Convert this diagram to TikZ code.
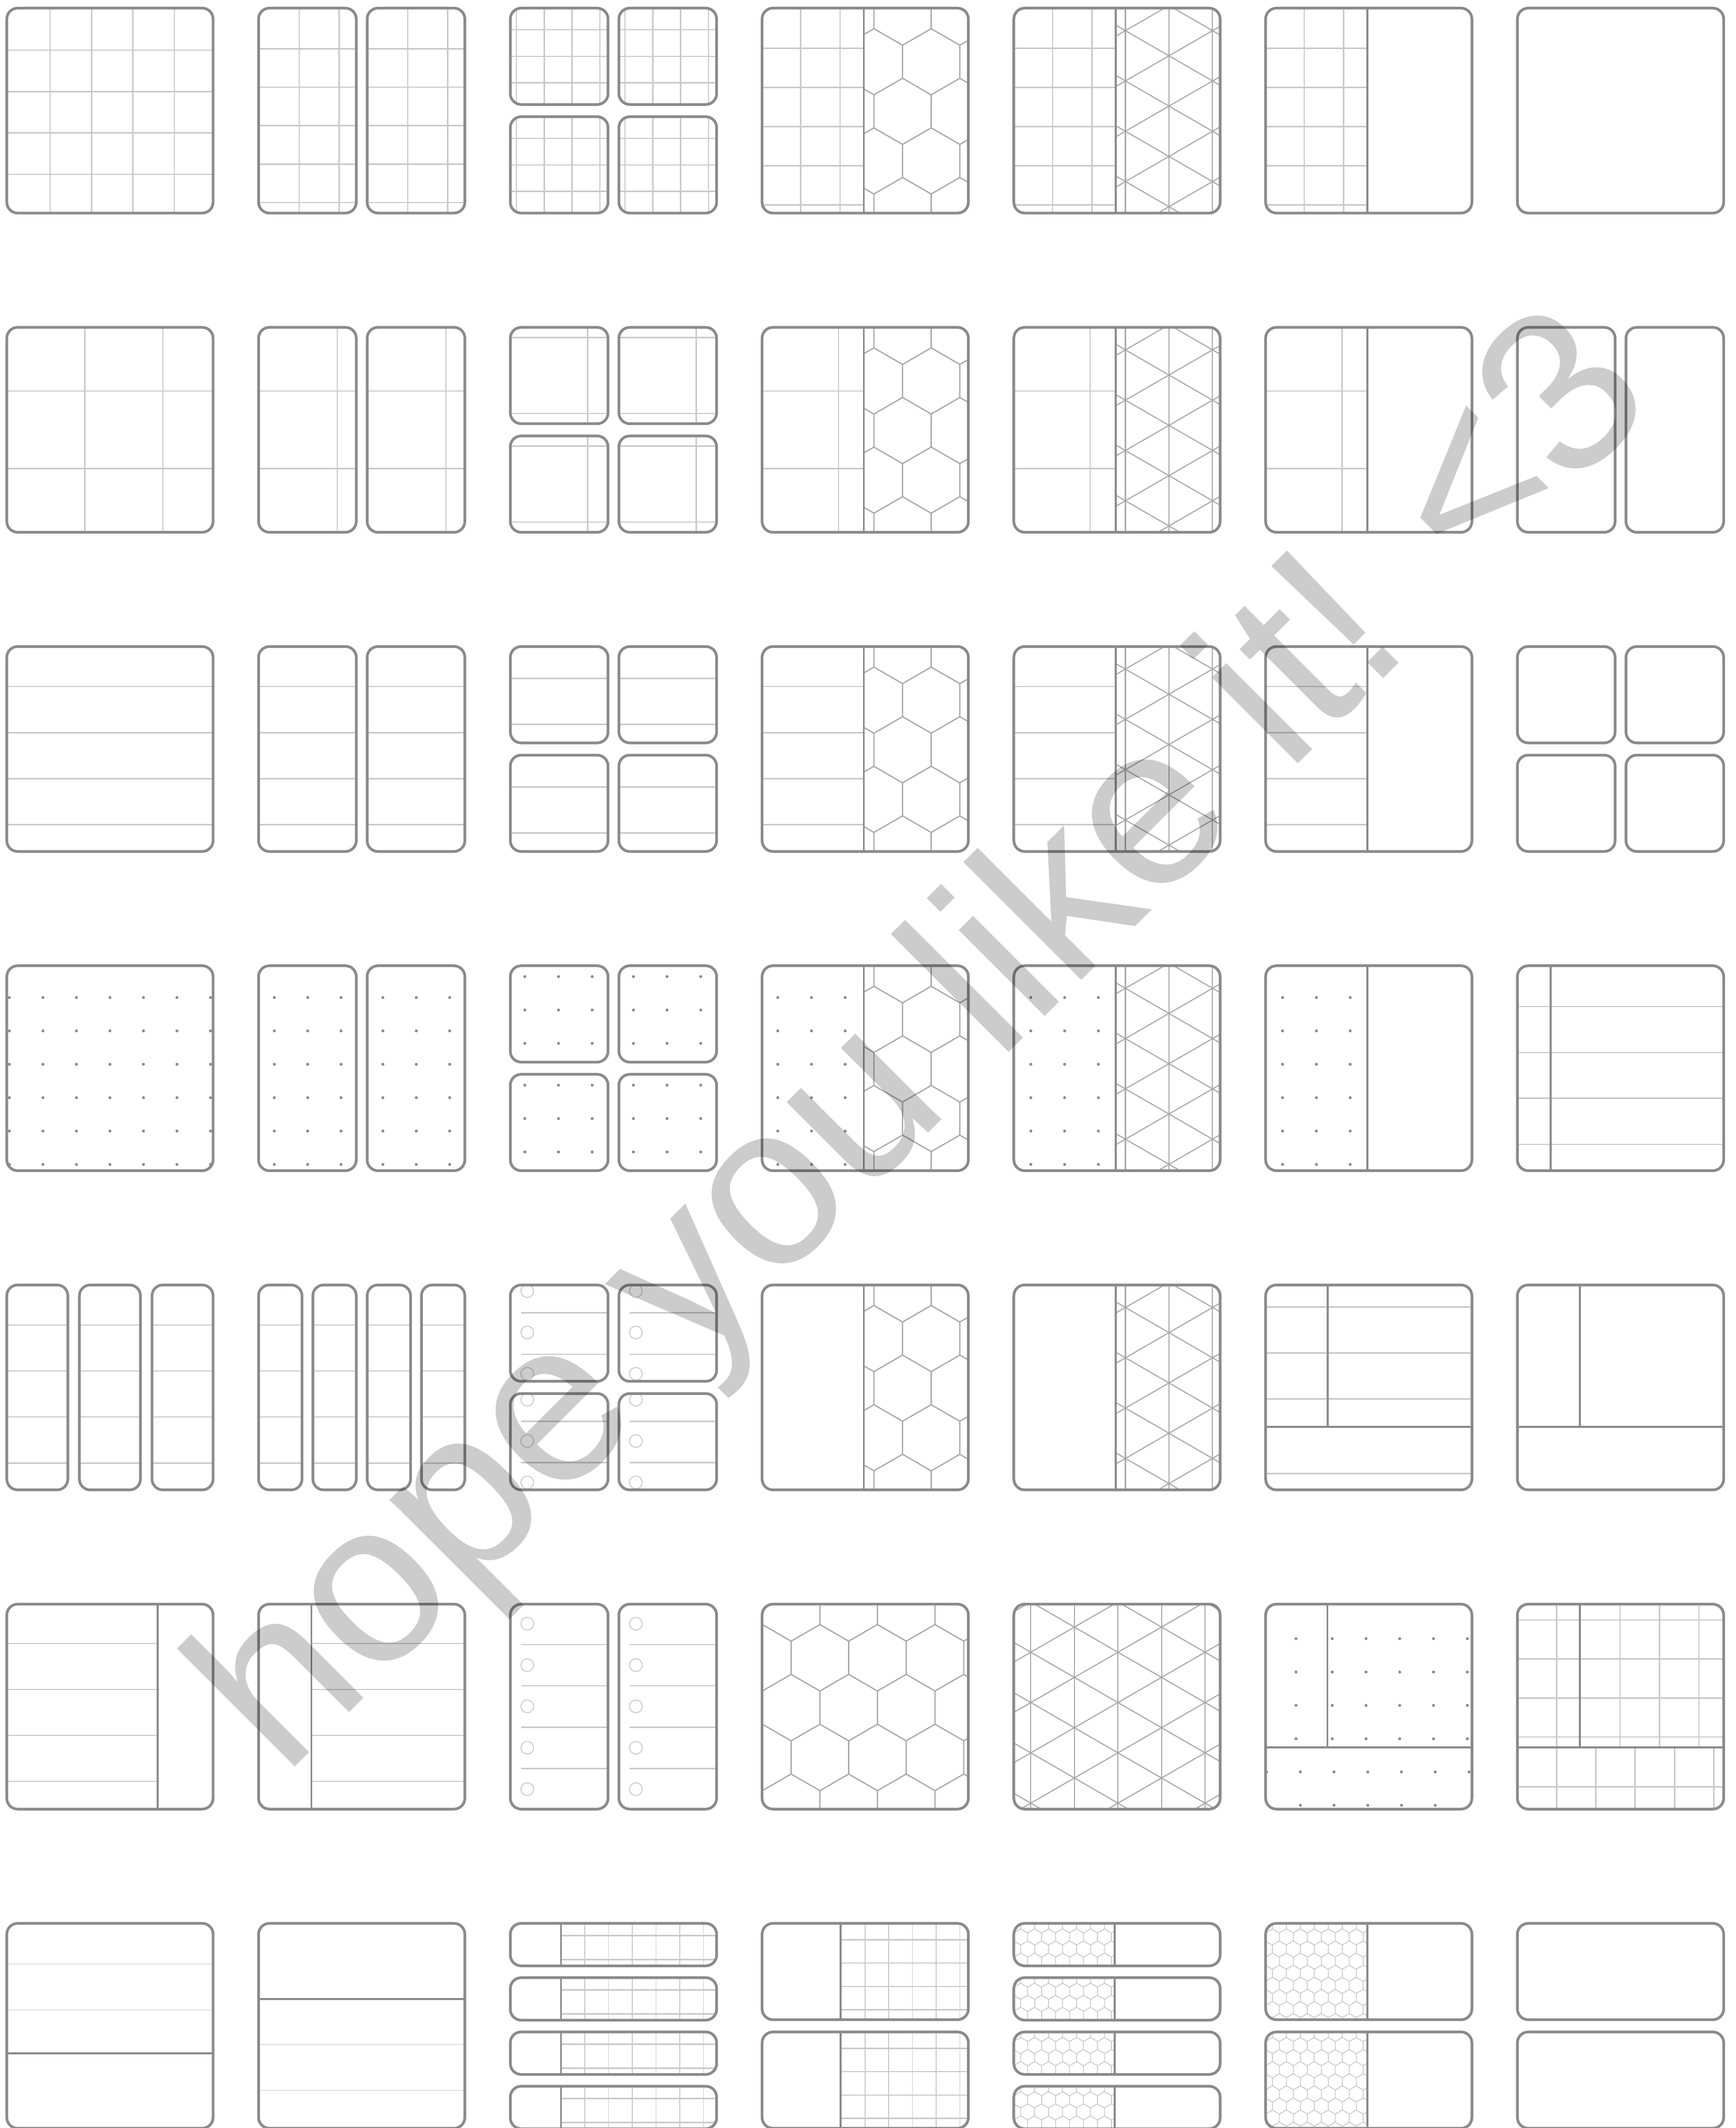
\documentclass[tikz,border=0pt]{standalone}
\usepackage{fontspec}
\setmainfont{Liberation Sans}
\definecolor{olc}{HTML}{8A8A8A}
\definecolor{lgc}{HTML}{C9C9C9}
\definecolor{patc}{HTML}{A8A8A8}
\definecolor{dotc}{HTML}{8A8A8A}
\definecolor{holec}{HTML}{D0D0D0}
\definecolor{vlc}{HTML}{E0E0E0}
\tikzset{
 outl/.style={draw=olc, line width=2pt, rounded corners=8pt},
 lg/.style={draw=lgc, line width=1pt},
 lgt/.style={draw=lgc, line width=0.6pt},
 vlt/.style={draw=vlc, line width=1pt},
 pat/.style={draw=patc, line width=0.8pt},
 spat/.style={draw=lgc, line width=0.5pt},
 dv/.style={draw=olc, line width=1.4pt},
 hole/.style={draw=holec, line width=0.8pt},
}
\newcommand\hln[3]{\draw[lg] (#1,#3) -- (#2,#3);}
\newcommand\vln[3]{\draw[lg] (#3,#1) -- (#3,#2);}
\newcommand\pgbox[5]{\begin{scope}[shift={(#1,#2)}]
 \begin{scope}\clip[rounded corners=8pt] (0,0) rectangle (#3,#4); #5 \end{scope}
 \draw[outl] (0,0) rectangle (#3,#4);
 \end{scope}}
\newcommand\twobox[3]{\begin{scope}[shift={(#1,#2)}]\pgbox{0}{0}{72}{151}{#3}\pgbox{80}{0}{72}{151}{#3}\end{scope}}
\newcommand\fourbox[3]{\begin{scope}[shift={(#1,#2)}]\pgbox{0}{0}{72}{71}{#3}\pgbox{80}{0}{72}{71}{#3}\pgbox{0}{80}{72}{71}{#3}\pgbox{80}{80}{72}{71}{#3}\end{scope}}
\newcommand\dotgrid[2]{\foreach \a in {#1}{\foreach \b in {#2}{\fill[dotc] (\a,\b) circle (1.1);}}}
\newcommand\dotsix[1]{\dotgrid{#1}{23.4,48,72.6,97.2,121.8,146.4}}
\newcommand\hexfield[8]{%
\begin{scope}
\clip (#1,#2) rectangle (#3,#4);
\pgfmathsetmacro\hxR{#7/sqrt(3)}
\pgfmathsetmacro\hxP{1.5*\hxR}
\pgfmathtruncatemacro\hxIa{floor((#1-#5)/#7)-1}
\pgfmathtruncatemacro\hxIb{ceil((#3-#5)/#7)+1}
\pgfmathtruncatemacro\hxJa{floor((#2-#6)/\hxP)-1}
\pgfmathtruncatemacro\hxJb{ceil((#4-#6)/\hxP)+1}
\foreach \j in {\hxJa,...,\hxJb}{
 \foreach \i in {\hxIa,...,\hxIb}{
  \pgfmathsetmacro\hxX{#5+\i*#7+mod(\j+20,2)*#7/2}
  \pgfmathsetmacro\hxY{#6+\j*\hxP}
  \draw[#8] (\hxX,\hxY) +(30:\hxR) -- +(90:\hxR) -- +(150:\hxR) -- +(210:\hxR) -- +(270:\hxR) -- +(330:\hxR) -- cycle;
 }}
\end{scope}}
\newcommand\trifield[7]{%
\begin{scope}
\clip (#1,#2) rectangle (#3,#4);
\pgfmathsetmacro\trT{tan(30)}
\pgfmathsetmacro\trS{2*#7*\trT}
\foreach \k in {-6,...,6}{\draw[pat] ({#5+\k*#7},#2) -- ({#5+\k*#7},#4);}
\foreach \k in {-8,...,8}{
 \draw[pat] (#1,{#6+\k*\trS+(#1-#5)*\trT}) -- (#3,{#6+\k*\trS+(#3-#5)*\trT});
 \draw[pat] (#1,{#6+\k*\trS-(#1-#5)*\trT}) -- (#3,{#6+\k*\trS-(#3-#5)*\trT});
}
\end{scope}}
\newcommand\divline{\draw[dv] (75,0) -- (75,151);}
\newcommand\hexR{\hexfield{75}{0}{152}{151}{82.4}{39.5}{42.2}{pat}}
\newcommand\triR{\trifield{75}{0}{152}{151}{82.2}{16.6}{32.1}}
\newcommand\gridL{\foreach \v in {28.5,57.5}{\vln{0}{151}{\v}}\foreach \v in {29.5,58.4,87.3,116.2,145.1}{\hln{0}{75}{\v}}}
\newcommand\corL{\vln{0}{151}{56.3}\hln{0}{75}{47}\hln{0}{75}{104}}
\newcommand\ruleL{\foreach \v in {29.5,63.4,97.3,131.2}{\hln{0}{75}{\v}}}
\begin{document}
\begin{tikzpicture}[x=1pt,y=-1pt]
\useasboundingbox (0,0) rectangle (1279,1568);
\fill[white] (0,0) rectangle (1279,1568);
% ---------- row 1
\pgbox{5}{6}{152}{151}{\foreach \v in {32,62.5,93,123.5}{\vln{0}{151}{\v}}\foreach \v in {31,61.5,92,122.5}{\hln{0}{152}{\v}}}
\twobox{190.5}{6}{\foreach \v in {30,59.4}{\vln{0}{151}{\v}}\foreach \v in {30,58.3,86.6,114.9,143.2}{\hln{0}{72}{\v}}}
\fourbox{376}{6}{\foreach \v in {4.5,25,45.4,66}{\vln{0}{71}{\v}}\foreach \v in {16,35.5,55}{\hln{0}{72}{\v}}}
\pgbox{561.5}{6}{152}{151}{\gridL\hexR\divline}
\pgbox{747}{6}{152}{151}{\gridL\triR\divline}
\pgbox{932.5}{6}{152}{151}{\gridL\divline}
\pgbox{1118}{6}{152}{151}{}
% ---------- row 2
\pgbox{5}{241.2}{152}{151}{\vln{0}{151}{57.5}\vln{0}{151}{115}\hln{0}{152}{47}\hln{0}{152}{104}}
\twobox{190.5}{241.2}{\vln{0}{151}{58}\hln{0}{72}{47}\hln{0}{72}{104}}
\fourbox{376}{241.2}{\vln{0}{71}{57}\hln{0}{72}{7.5}\hln{0}{72}{63.5}}
\pgbox{561.5}{241.2}{152}{151}{\corL\hexR\divline}
\pgbox{747}{241.2}{152}{151}{\corL\triR\divline}
\pgbox{932.5}{241.2}{152}{151}{\corL\divline}
\twobox{1118}{241.2}{}
% ---------- row 3
\pgbox{5}{476.4}{152}{151}{\foreach \v in {29.5,63.4,97.3,131.2}{\hln{0}{152}{\v}}}
\twobox{190.5}{476.4}{\foreach \v in {29.5,63.4,97.3,131.2}{\hln{0}{72}{\v}}}
\fourbox{376}{476.4}{\hln{0}{72}{23.5}\hln{0}{72}{57.4}}
\pgbox{561.5}{476.4}{152}{151}{\ruleL\hexR\divline}
\pgbox{747}{476.4}{152}{151}{\ruleL\triR\divline}
\pgbox{932.5}{476.4}{152}{151}{\ruleL\divline}
\fourbox{1118}{476.4}{}
% ---------- row 4
\pgbox{5}{711.6}{152}{151}{\dotsix{1.9,26.6,51.3,76,100.7,125.4,150.1}}
\twobox{190.5}{711.6}{\dotsix{11.6,36.2,60.8}}
\fourbox{376}{711.6}{\dotgrid{10.7,35.5,60.3}{8,32.6,57.2}}
\pgbox{561.5}{711.6}{152}{151}{\dotsix{11.6,36.4,61.2}\hexR\divline}
\pgbox{747}{711.6}{152}{151}{\dotsix{12.5,37.4,62.3}\triR\divline}
\pgbox{932.5}{711.6}{152}{151}{\dotsix{12.5,37.4,62.3}\divline}
\pgbox{1118}{711.6}{152}{151}{\foreach \v in {30,63.9,97.7,131.6}{\hln{0}{152}{\v}}\draw[dv] (24.6,0) -- (24.6,151);}
% ---------- row 5
\foreach \xx in {5,58.5,112}{\pgbox{\xx}{946.8}{45}{151}{\foreach \v in {29.5,63.4,97.3,131.2}{\hln{0}{45}{\v}}}}
\foreach \xx in {190.5,230.5,270.5,310.5}{\pgbox{\xx}{946.8}{32}{151}{\foreach \v in {29.5,63.4,97.3,131.2}{\hln{0}{32}{\v}}}}
\fourbox{376}{946.8}{\foreach \c in {4.5,35,65.5}{\draw[hole] (12.5,\c) circle (4.7);}\hln{7.9}{72}{20.5}\hln{7.9}{72}{51}}
\pgbox{561.5}{946.8}{152}{151}{\hexR\divline}
\pgbox{747}{946.8}{152}{151}{\triR\divline}
\pgbox{932.5}{946.8}{152}{151}{\foreach \v in {16.2,50,83.9,138.9}{\hln{0}{152}{\v}}\draw[dv] (45.7,0) -- (45.7,104.5);\draw[dv] (0,104.5) -- (152,104.5);}
\pgbox{1118}{946.8}{152}{151}{\draw[dv] (46,0) -- (46,104.5);\draw[dv] (0,104.5) -- (152,104.5);}
% ---------- row 6
\pgbox{5}{1182}{152}{151}{\foreach \v in {29,62.9,96.7,130.6}{\hln{0}{111.2}{\v}}\draw[dv] (111.2,0) -- (111.2,151);}
\pgbox{190.5}{1182}{152}{151}{\foreach \v in {29,62.9,96.7,130.6}{\hln{38.9}{152}{\v}}\draw[dv] (38.9,0) -- (38.9,151);}
\twobox{376}{1182}{\foreach \c in {14.4,44.9,75.3,105.8,136.3}{\draw[hole] (12.5,\c) circle (4.7);}\foreach \v in {29.8,60.2,90.7,121.2}{\hln{7.9}{72}{\v}}}
\pgbox{561.5}{1182}{152}{151}{\hexfield{0}{0}{152}{151}{0.2}{39.5}{42.4}{pat}}
\pgbox{747}{1182}{152}{151}{\trifield{0}{0}{152}{151}{44.6}{16.9}{32.1}}
\pgbox{932.5}{1182}{152}{151}{\dotgrid{22.4,49.1,74,98.8,123.7,148.6}{25.4,50,74.6,99.2}\dotgrid{0.7,25.6,50.4,75.3,100.1,125,149.9}{123.6}\dotgrid{25.6,50.4,75.3,100.1,125}{148.2}\draw[dv] (45.6,0) -- (45.6,105.5);\draw[dv] (0,105.5) -- (152,105.5);}
\pgbox{1118}{1182}{152}{151}{\vln{0}{151}{29}\foreach \v in {75.7,104.7,133.7}{\vln{0}{105.5}{\v}}\foreach \v in {57.7,86.7,115.8,144.8}{\vln{105.5}{151}{\v}}\foreach \v in {11.7,40.4,69.1,97.8,134.7}{\hln{0}{152}{\v}}\draw[dv] (46,0) -- (46,105.5);\draw[dv] (0,105.5) -- (152,105.5);}
% ---------- row 7
\pgbox{5}{1417.2}{152}{151}{\draw[vlt] (0,30) -- (152,30);\draw[vlt] (0,63.8) -- (152,63.8);\draw[dv] (0,95.7) -- (152,95.7);}
\pgbox{190.5}{1417.2}{152}{151}{\draw[dv] (0,55.8) -- (152,55.8);\draw[vlt] (0,89.2) -- (152,89.2);\draw[vlt] (0,123.1) -- (152,123.1);}
\foreach \yy in {1417.2,1457.2,1497.2,1537.2}{\pgbox{376}{\yy}{152}{31.3}{\foreach \v in {54.8,72.3,89.8,107.3,124.8,142.3}{\draw[lgt] (\v,0) -- (\v,31.3);}\hln{37.3}{152}{9.1}\hln{37.3}{152}{26.7}\draw[dv] (37.3,0) -- (37.3,31.3);}}
\foreach \yy in {1417.2,1497.2}{\pgbox{561.5}{\yy}{152}{71}{\foreach \v in {75.9,93.3,110.8,128.3,145.8}{\draw[lgt] (\v,0) -- (\v,71);}\foreach \v in {12,29.2,46.5,63.7}{\hln{57.8}{152}{\v}}\draw[dv] (57.8,0) -- (57.8,71);}}
\foreach \yy in {1417.2,1457.2,1497.2,1537.2}{\pgbox{747}{\yy}{152}{31.3}{\hexfield{0}{0}{74.3}{31.3}{5}{10}{10.3}{spat}\draw[dv] (74.3,0) -- (74.3,31.3);}}
\foreach \yy in {1417.2,1497.2}{\pgbox{932.5}{\yy}{152}{71}{\hexfield{0}{0}{75}{71}{5}{10}{10.3}{spat}\draw[dv] (75,0) -- (75,71);}}
\pgbox{1118}{1417.2}{152}{71}{}
\pgbox{1118}{1497.2}{152}{71}{}
% ---------- watermark
\node[rotate=45, anchor=base west, inner sep=0pt, text=black, text opacity=0.2,
 font=\fontsize{169.5}{169.5}\selectfont] (wm) at (209,1310) {hope you like it! <3};
\end{tikzpicture}
\end{document}
